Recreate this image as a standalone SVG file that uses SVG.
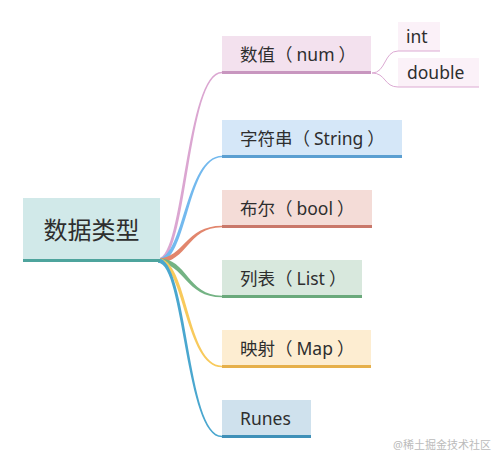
<svg xmlns="http://www.w3.org/2000/svg" width="500" height="460" viewBox="0 0 500 460">
<style>
text{font-family:"Noto Sans","Noto Sans CJK SC",sans-serif;fill:#2e2e2e;}
.lbl{font-size:17.5px;}
.root{font-size:24px;}
.wm{font-size:11px;fill:#bbb;}
</style>
<rect width="500" height="460" fill="#fff"/>
<g id="connectors">
<path d="M158,258.3 C184,258.3 185.2,71.7 222,71.7 L222,73.3 C186.8,73.3 188,262.7 158,262.7Z" fill="#dba6d1"/>
<path d="M158,258.3 C184,258.3 185.2,155.7 222,155.7 L222,157.3 C186.8,157.3 188,262.7 158,262.7Z" fill="#73b9ee"/>
<path d="M158,258.3 C184,258.3 185.2,225.7 222,225.7 L222,227.3 C186.8,227.3 188,262.7 158,262.7Z" fill="#e2866d"/>
<path d="M158,258.3 C188,258.3 186.8,295.7 222,295.7 L222,297.3 C185.2,297.3 184,262.7 158,262.7Z" fill="#74b384"/>
<path d="M158,258.3 C188,258.3 186.8,365.7 222,365.7 L222,367.3 C185.2,367.3 184,262.7 158,262.7Z" fill="#f8ca5c"/>
<path d="M158,258.3 C188,258.3 186.8,435.7 222,435.7 L222,437.3 C185.2,437.3 184,262.7 158,262.7Z" fill="#4aa7cf"/>
<path d="M372,73 C386,73 384,51 398,51 M372,73 C386,73 384,87 398,87" fill="none" stroke="#dcaad3" stroke-width="1"/>
</g>
<g id="root">
<rect x="23" y="198" width="137" height="64" fill="#d1e9e9"/>
<rect x="23" y="259" width="137" height="3" fill="#4ea49d"/>
<text class="root" x="91.5" y="239" text-anchor="middle">数据类型</text>
</g>
<g id="num">
<rect x="222" y="36" width="149" height="38" fill="#f3e1ee"/>
<rect x="222" y="71" width="149" height="3" fill="#c896bf"/>
<text class="lbl" x="240" y="61">数值（<tspan dx="4">num</tspan><tspan dx="4">）</tspan></text>
</g>
<g id="int">
<rect x="398" y="22" width="42" height="29" fill="#fbf1f8"/>
<line x1="398" y1="51" x2="440" y2="51" stroke="#dcaad3" stroke-width="1"/>
<text class="lbl" x="406" y="43">int</text>
</g>
<g id="double">
<rect x="398" y="58" width="81" height="29" fill="#fbf1f8"/>
<line x1="398" y1="87" x2="479" y2="87" stroke="#dcaad3" stroke-width="1"/>
<text class="lbl" x="407" y="78.5">double</text>
</g>
<g id="string">
<rect x="222" y="120" width="180" height="38" fill="#d5e7f8"/>
<rect x="222" y="155" width="180" height="3" fill="#5b9fd1"/>
<text class="lbl" x="240" y="145">字符串（<tspan dx="4">String</tspan><tspan dx="4">）</tspan></text>
</g>
<g id="bool">
<rect x="222" y="190" width="150" height="38" fill="#f4dcd7"/>
<rect x="222" y="225" width="150" height="3" fill="#c9786a"/>
<text class="lbl" x="240" y="215">布尔（<tspan dx="4">bool</tspan><tspan dx="4">）</tspan></text>
</g>
<g id="list">
<rect x="222" y="260" width="140" height="38" fill="#d8e8dd"/>
<rect x="222" y="295" width="140" height="3" fill="#6aa97b"/>
<text class="lbl" x="240" y="285">列表（<tspan dx="4">List</tspan><tspan dx="4">）</tspan></text>
</g>
<g id="map">
<rect x="222" y="330" width="149" height="38" fill="#fdedd1"/>
<rect x="222" y="365" width="149" height="3" fill="#e6b04b"/>
<text class="lbl" x="240" y="355">映射（<tspan dx="4">Map</tspan><tspan dx="4">）</tspan></text>
</g>
<g id="runes">
<rect x="222" y="400" width="89" height="38" fill="#cfe1ed"/>
<rect x="222" y="435" width="89" height="3" fill="#3f90b8"/>
<text class="lbl" x="240" y="425" font-size="18.5">Runes</text>
</g>
<text class="wm" x="393" y="449">@稀土掘金技术社区</text>
</svg>
